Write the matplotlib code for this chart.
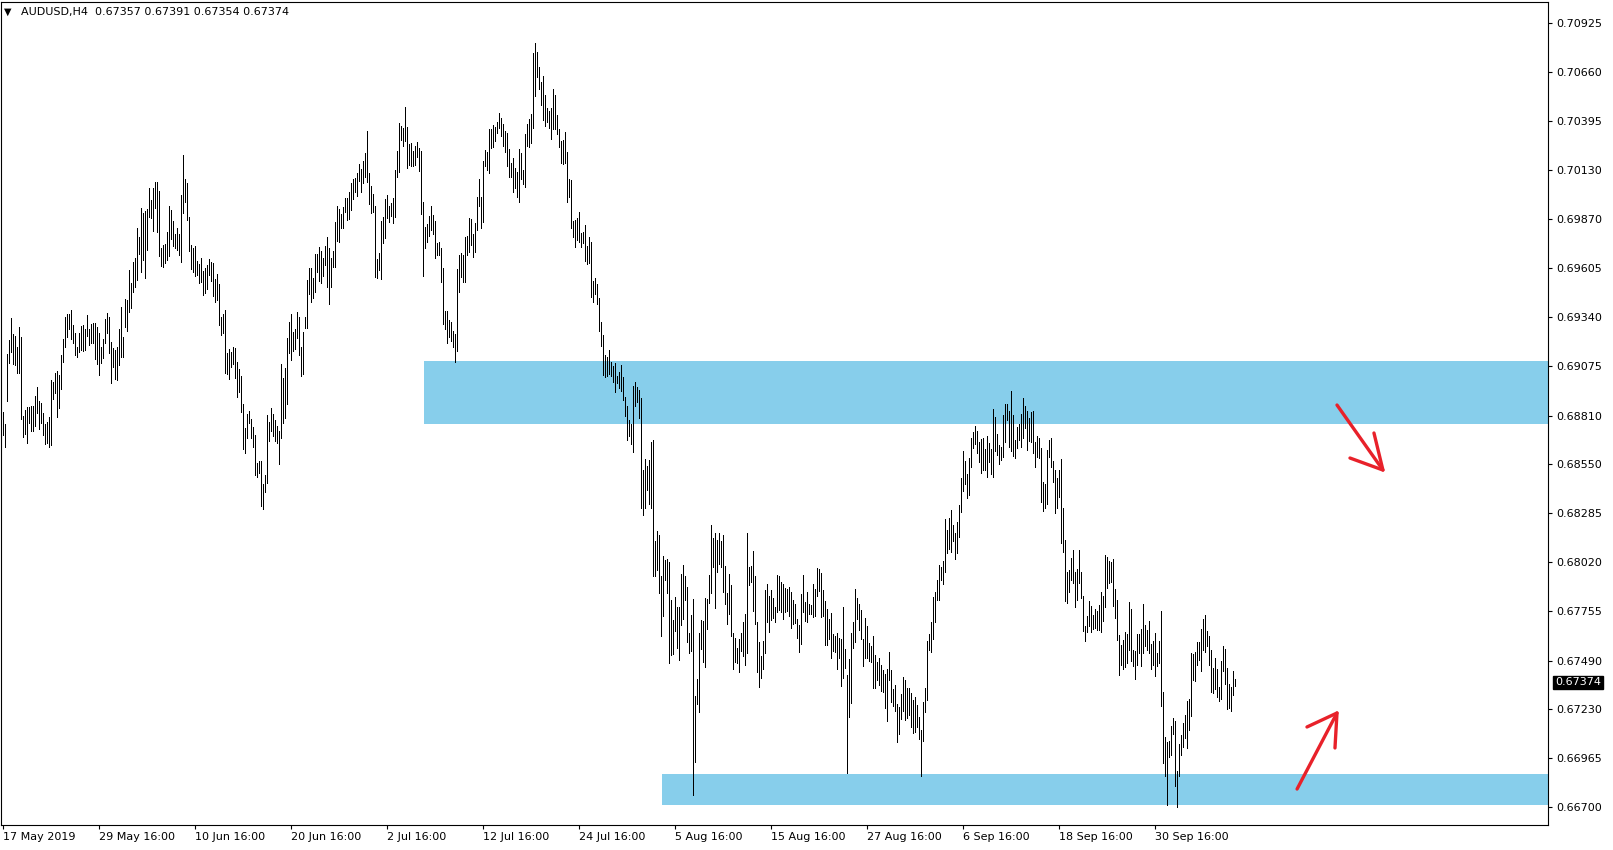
import numpy as np
import matplotlib
matplotlib.use("Agg")
import matplotlib.pyplot as plt
from matplotlib.patches import Rectangle

# AUDUSD H4 bars (high / low of each bar)
symbol = "AUDUSD,H4"
last_ohlc = [0.67357, 0.67391, 0.67354, 0.67374]

highs = [
    0.68831, 0.68765, 0.69141, 0.69217, 0.69333, 0.69249, 0.69238, 0.69181, 0.69288, 0.69235,
    0.68808, 0.68840, 0.68854, 0.68854, 0.68862, 0.68862, 0.68915, 0.68962, 0.68890, 0.68876,
    0.68822, 0.68765, 0.68777, 0.68804, 0.69001, 0.68992, 0.69041, 0.69050, 0.69028, 0.69136,
    0.69220, 0.69342, 0.69357, 0.69357, 0.69378, 0.69297, 0.69253, 0.69181, 0.69253, 0.69292,
    0.69297, 0.69274, 0.69351, 0.69274, 0.69303, 0.69306, 0.69310, 0.69288, 0.69253, 0.69181,
    0.69220, 0.69328, 0.69360, 0.69342, 0.69208, 0.69172, 0.69163, 0.69181, 0.69274, 0.69396,
    0.69235,
    0.69437, 0.69432, 0.69593, 0.69521, 0.69638, 0.69656, 0.69817, 0.69773, 0.69925, 0.69898,
    0.69911, 0.69922, 0.70033, 0.69970, 0.70033, 0.70065, 0.70065, 0.70018, 0.69710, 0.69728,
    0.69731, 0.69796, 0.69938, 0.69916, 0.69857, 0.69785, 0.69817, 0.69785, 0.69997, 0.70212,
    0.70083, 0.70060, 0.69880, 0.69728, 0.69710, 0.69724, 0.69642, 0.69624, 0.69660, 0.69588,
    0.69602, 0.69620, 0.69652, 0.69635, 0.69629, 0.69545, 0.69570, 0.69516, 0.69342, 0.69355,
    0.69378, 0.69145, 0.69168, 0.69150, 0.69181, 0.69172, 0.69096, 0.69060, 0.69025, 0.68870,
    0.68745, 0.68816, 0.68834,
    0.68791, 0.68750, 0.68705, 0.68553, 0.68565, 0.68565, 0.68440, 0.68490, 0.68813, 0.68773,
    0.68852, 0.68816, 0.68786, 0.68755, 0.68727, 0.69085, 0.69010, 0.69064, 0.69225, 0.69311,
    0.69355, 0.69258, 0.69276, 0.69369, 0.69342, 0.69181, 0.69258, 0.69342, 0.69539, 0.69606,
    0.69602, 0.69552, 0.69677, 0.69677, 0.69719, 0.69695, 0.69660, 0.69724, 0.69773, 0.69710,
    0.69656, 0.69695, 0.69850, 0.69939, 0.69921, 0.69893, 0.69934, 0.69982, 0.69979, 0.70011,
    0.70060, 0.70083, 0.70086, 0.70113, 0.70162, 0.70137, 0.70180, 0.70221, 0.70341, 0.70113,
    0.70047, 0.70000,
    0.69939, 0.69652, 0.69683, 0.69857, 0.69880, 0.69975, 0.69997, 0.69939, 0.69952, 0.69983,
    0.70131, 0.70234, 0.70383, 0.70370, 0.70359, 0.70472, 0.70365, 0.70270, 0.70275, 0.70234,
    0.70262, 0.70280, 0.70248, 0.70234, 0.69957, 0.69826, 0.69839, 0.69886, 0.69939, 0.69889,
    0.69857, 0.69737, 0.69746, 0.69713, 0.69606, 0.69373, 0.69373, 0.69324, 0.69312, 0.69265,
    0.69247, 0.69599, 0.69674, 0.69683, 0.69674, 0.69773, 0.69778, 0.69875, 0.69868, 0.69785,
    0.69844, 0.69988, 0.70083, 0.69988, 0.70180, 0.70239, 0.70230, 0.70352, 0.70352, 0.70374,
    0.70365, 0.70388, 0.70436,
    0.70409, 0.70377, 0.70341, 0.70329, 0.70244, 0.70167, 0.70194, 0.70140, 0.70119, 0.70244,
    0.70221, 0.70131, 0.70323, 0.70377, 0.70406, 0.70431, 0.70759, 0.70813, 0.70765, 0.70688,
    0.70603, 0.70639, 0.70535, 0.70467, 0.70449, 0.70463, 0.70567, 0.70535, 0.70427, 0.70352,
    0.70288, 0.70293, 0.70334, 0.70230, 0.70083, 0.70078, 0.69857, 0.69862, 0.69875, 0.69907,
    0.69791, 0.69796, 0.69835, 0.69724, 0.69773, 0.69746, 0.69534, 0.69552, 0.69516, 0.69444,
    0.69315, 0.69243, 0.69136, 0.69127, 0.69163, 0.69100, 0.69078, 0.69091, 0.69025, 0.69046,
    0.69082, 0.69019,
    0.68912, 0.68863, 0.68786, 0.68763, 0.68971, 0.68992, 0.68965, 0.68947, 0.68906, 0.68517,
    0.68576, 0.68540, 0.68571, 0.68669, 0.68678, 0.68135, 0.68189, 0.68167, 0.67948, 0.68056,
    0.68033, 0.68038, 0.68024, 0.67817, 0.67710, 0.67835, 0.67781, 0.67781, 0.67955, 0.68006,
    0.67948, 0.67889, 0.67638, 0.67736, 0.67823, 0.67302, 0.67392, 0.67638, 0.67710, 0.67704,
    0.67830, 0.67823, 0.67952, 0.68221, 0.68149, 0.68176, 0.68140, 0.68176, 0.68135, 0.68167,
    0.68002, 0.67853, 0.67955, 0.67898, 0.67638, 0.67615, 0.67557, 0.67607, 0.67638, 0.67697,
    0.67740, 0.68176, 0.67997,
    0.68002, 0.68081, 0.67948, 0.67697, 0.67593, 0.67517, 0.67596, 0.67871, 0.67901, 0.67840,
    0.67871, 0.67830, 0.67781, 0.67952, 0.67948, 0.67916, 0.67901, 0.67880, 0.67876, 0.67889,
    0.67862, 0.67817, 0.67794, 0.67715, 0.67682, 0.67847, 0.67952, 0.67804, 0.67862, 0.67794,
    0.67790, 0.67901, 0.67876, 0.67991, 0.67984, 0.67961, 0.67871, 0.67812, 0.67769, 0.67715,
    0.67745, 0.67632, 0.67625, 0.67638, 0.67614, 0.67607, 0.67781, 0.67553, 0.67413, 0.67499,
    0.67638, 0.67697, 0.67876, 0.67830, 0.67794, 0.67763, 0.67607, 0.67718, 0.67679, 0.67584,
    0.67571, 0.67625,
    0.67521, 0.67485, 0.67503, 0.67467, 0.67440, 0.67417, 0.67446, 0.67535, 0.67440, 0.67338,
    0.67359, 0.67255, 0.67243, 0.67309, 0.67404, 0.67386, 0.67341, 0.67341, 0.67315, 0.67279,
    0.67297, 0.67252, 0.67189, 0.67117, 0.67270, 0.67345, 0.67596, 0.67632, 0.67697, 0.67835,
    0.67862, 0.67925, 0.68005, 0.67996, 0.68027, 0.68253, 0.68194, 0.68260, 0.68301, 0.68221,
    0.68176, 0.68235, 0.68328, 0.68475, 0.68619, 0.68565, 0.68493, 0.68583, 0.68691, 0.68719,
    0.68755, 0.68726, 0.68669, 0.68683, 0.68691, 0.68630, 0.68701, 0.68660, 0.68630, 0.68845,
    0.68804, 0.68708, 0.68651,
    0.68642, 0.68813, 0.68870, 0.68870, 0.68834, 0.68942, 0.68813, 0.68678, 0.68750, 0.68762,
    0.68816, 0.68902, 0.68863, 0.68834, 0.68798, 0.68827, 0.68834, 0.68665, 0.68701, 0.68691,
    0.68637, 0.68450, 0.68439, 0.68624, 0.68678, 0.68691, 0.68565, 0.68517, 0.68475, 0.68517,
    0.68576, 0.68314, 0.68140, 0.67969, 0.67978, 0.68045, 0.68086, 0.67969, 0.67984, 0.68086,
    0.67969, 0.67840, 0.67679, 0.67733, 0.67811, 0.67786, 0.67736, 0.67768, 0.67758, 0.67790,
    0.67858, 0.67840, 0.68059, 0.68050, 0.68027, 0.68023, 0.68038, 0.67876, 0.67817, 0.67628,
    0.67575, 0.67602,
    0.67647, 0.67634, 0.67808, 0.67767, 0.67548, 0.67544, 0.67634, 0.67634, 0.67659, 0.67796,
    0.67683, 0.67656, 0.67706, 0.67580, 0.67598, 0.67641, 0.67534, 0.67598, 0.67760, 0.67324,
    0.67082, 0.67055, 0.67060, 0.67139, 0.67180, 0.67168, 0.66899, 0.67042, 0.67091, 0.67157,
    0.67198, 0.67275, 0.67283, 0.67534, 0.67527, 0.67539, 0.67593, 0.67593, 0.67659, 0.67713,
    0.67736, 0.67652, 0.67623, 0.67548, 0.67449, 0.67503, 0.67444, 0.67351, 0.67491, 0.67570,
    0.67552, 0.67449, 0.67365, 0.67351, 0.67437, 0.67391,
]

lows = [
    0.68705, 0.68643, 0.68890, 0.69091, 0.69154, 0.69088, 0.69082, 0.69037, 0.69041, 0.68790,
    0.68693, 0.68711, 0.68661, 0.68772, 0.68729, 0.68729, 0.68754, 0.68826, 0.68736, 0.68772,
    0.68705, 0.68657, 0.68664, 0.68643, 0.68652, 0.68897, 0.68933, 0.68804, 0.68849, 0.68951,
    0.69100, 0.69177, 0.69235, 0.69274, 0.69220, 0.69202, 0.69136, 0.69123, 0.69154, 0.69163,
    0.69159, 0.69163, 0.69238, 0.69190, 0.69199, 0.69199, 0.69113, 0.69088, 0.69028, 0.69091,
    0.69118, 0.69199, 0.69253, 0.69145, 0.68983, 0.69073, 0.69005, 0.69001, 0.69082, 0.69127,
    0.69127,
    0.69288, 0.69265, 0.69369, 0.69391, 0.69473, 0.69504, 0.69539, 0.69678, 0.69584, 0.69647,
    0.69548, 0.69701, 0.69880, 0.69875, 0.69803, 0.69929, 0.69800, 0.69670, 0.69617, 0.69611,
    0.69629, 0.69647, 0.69670, 0.69760, 0.69724, 0.69713, 0.69701, 0.69674, 0.69635, 0.69898,
    0.69961, 0.69862, 0.69696, 0.69599, 0.69584, 0.69563, 0.69566, 0.69521, 0.69527, 0.69459,
    0.69468, 0.69491, 0.69566, 0.69534, 0.69455, 0.69423, 0.69432, 0.69297, 0.69243, 0.69252,
    0.69037, 0.69032, 0.69007, 0.69073, 0.69086, 0.69010, 0.68912, 0.68938, 0.68827, 0.68630,
    0.68607, 0.68691, 0.68768,
    0.68691, 0.68642, 0.68490, 0.68481, 0.68499, 0.68325, 0.68307, 0.68397, 0.68445, 0.68673,
    0.68727, 0.68702, 0.68673, 0.68660, 0.68547, 0.68691, 0.68768, 0.68795, 0.68870, 0.69145,
    0.69109, 0.69157, 0.69168, 0.69229, 0.69136, 0.69024, 0.69032, 0.69283, 0.69279, 0.69462,
    0.69423, 0.69444, 0.69473, 0.69584, 0.69534, 0.69521, 0.69563, 0.69620, 0.69503, 0.69408,
    0.69503, 0.69611, 0.69611, 0.69749, 0.69746, 0.69821, 0.69821, 0.69907, 0.69862, 0.69868,
    0.69916, 0.69975, 0.70015, 0.69993, 0.70072, 0.70011, 0.70060, 0.70095, 0.70065, 0.69947,
    0.69898, 0.69904,
    0.69557, 0.69552, 0.69593, 0.69545, 0.69737, 0.69764, 0.69871, 0.69850, 0.69886, 0.69844,
    0.69880, 0.70096, 0.70122, 0.70293, 0.70262, 0.70288, 0.70144, 0.70158, 0.70155, 0.70155,
    0.70158, 0.70203, 0.70126, 0.69893, 0.69563, 0.69713, 0.69742, 0.69778, 0.69809, 0.69785,
    0.69660, 0.69674, 0.69674, 0.69530, 0.69301, 0.69276, 0.69199, 0.69234, 0.69211, 0.69181,
    0.69096, 0.69157, 0.69477, 0.69557, 0.69530, 0.69530, 0.69674, 0.69692, 0.69728, 0.69665,
    0.69692, 0.69809, 0.69939, 0.69821, 0.69853, 0.70155, 0.70131, 0.70113, 0.70248, 0.70257,
    0.70288, 0.70329, 0.70359,
    0.70316, 0.70262, 0.70227, 0.70155, 0.70096, 0.70096, 0.70015, 0.70036, 0.69988, 0.69957,
    0.70083, 0.70054, 0.70042, 0.70262, 0.70257, 0.70275, 0.70359, 0.70531, 0.70634, 0.70567,
    0.70481, 0.70401, 0.70370, 0.70388, 0.70356, 0.70298, 0.70352, 0.70352, 0.70323, 0.70257,
    0.70167, 0.70162, 0.70167, 0.69957, 0.69988, 0.69817, 0.69773, 0.69719, 0.69755, 0.69746,
    0.69719, 0.69737, 0.69642, 0.69624, 0.69629, 0.69450, 0.69419, 0.69462, 0.69408, 0.69265,
    0.69186, 0.69028, 0.69019, 0.69025, 0.69032, 0.69025, 0.68992, 0.68938, 0.68983, 0.68960,
    0.68942, 0.68894,
    0.68809, 0.68678, 0.68702, 0.68655, 0.68612, 0.68863, 0.68881, 0.68799, 0.68314, 0.68275,
    0.68314, 0.68409, 0.68332, 0.68314, 0.67948, 0.67948, 0.67979, 0.67853, 0.67625, 0.67733,
    0.67925, 0.67853, 0.67476, 0.67521, 0.67525, 0.67650, 0.67561, 0.67494, 0.67683, 0.67715,
    0.67817, 0.67589, 0.67530, 0.67543, 0.66768, 0.66947, 0.67256, 0.67213, 0.67554, 0.67485,
    0.67458, 0.67661, 0.67799, 0.67853, 0.67997, 0.67776, 0.67966, 0.68009, 0.67997, 0.67858,
    0.67794, 0.67686, 0.67740, 0.67625, 0.67446, 0.67485, 0.67476, 0.67428, 0.67543, 0.67518,
    0.67467, 0.67530, 0.67898,
    0.67912, 0.67758, 0.67686, 0.67428, 0.67351, 0.67399, 0.67446, 0.67530, 0.67700, 0.67647,
    0.67709, 0.67722, 0.67700, 0.67754, 0.67763, 0.67751, 0.67715, 0.67754, 0.67758, 0.67733,
    0.67668, 0.67686, 0.67691, 0.67614, 0.67539, 0.67578, 0.67754, 0.67704, 0.67697, 0.67740,
    0.67740, 0.67727, 0.67733, 0.67840, 0.67865, 0.67727, 0.67733, 0.67575, 0.67575, 0.67607,
    0.67507, 0.67543, 0.67535, 0.67446, 0.67503, 0.67356, 0.67399, 0.67453, 0.66884, 0.67189,
    0.67261, 0.67560, 0.67593, 0.67715, 0.67656, 0.67607, 0.67464, 0.67507, 0.67507, 0.67489,
    0.67482, 0.67345,
    0.67345, 0.67386, 0.67359, 0.67327, 0.67320, 0.67234, 0.67166, 0.67386, 0.67266, 0.67248,
    0.67219, 0.67054, 0.67094, 0.67176, 0.67219, 0.67171, 0.67180, 0.67198, 0.67135, 0.67099,
    0.67105, 0.67135, 0.67069, 0.66871, 0.67058, 0.67212, 0.67279, 0.67548, 0.67539, 0.67607,
    0.67700, 0.67817, 0.67817, 0.67925, 0.67901, 0.67969, 0.68068, 0.68091, 0.68077, 0.68134,
    0.68038, 0.68068, 0.68158, 0.68292, 0.68404, 0.68439, 0.68368, 0.68382, 0.68534, 0.68637,
    0.68655, 0.68606, 0.68561, 0.68499, 0.68517, 0.68517, 0.68481, 0.68561, 0.68493, 0.68481,
    0.68619, 0.68597, 0.68547,
    0.68570, 0.68588, 0.68669, 0.68786, 0.68642, 0.68619, 0.68594, 0.68583, 0.68633, 0.68678,
    0.68642, 0.68691, 0.68741, 0.68624, 0.68673, 0.68665, 0.68606, 0.68534, 0.68588, 0.68583,
    0.68343, 0.68296, 0.68314, 0.68332, 0.68588, 0.68534, 0.68450, 0.68283, 0.68314, 0.68373,
    0.68122, 0.68077, 0.67811, 0.67799, 0.67862, 0.67925, 0.67907, 0.67781, 0.67817, 0.67907,
    0.67829, 0.67650, 0.67596, 0.67643, 0.67679, 0.67646, 0.67661, 0.67664, 0.67655, 0.67655,
    0.67646, 0.67704, 0.67781, 0.67883, 0.67907, 0.67916, 0.67786, 0.67722, 0.67602, 0.67413,
    0.67467, 0.67446,
    0.67458, 0.67480, 0.67548, 0.67491, 0.67462, 0.67390, 0.67467, 0.67534, 0.67462, 0.67534,
    0.67570, 0.67548, 0.67530, 0.67444, 0.67467, 0.67408, 0.67462, 0.67480, 0.67247, 0.66942,
    0.66870, 0.66714, 0.66974, 0.66983, 0.67096, 0.66816, 0.66705, 0.66870, 0.66983, 0.67028,
    0.67073, 0.67019, 0.67118, 0.67193, 0.67387, 0.67383, 0.67467, 0.67494, 0.67437, 0.67548,
    0.67539, 0.67570, 0.67467, 0.67324, 0.67318, 0.67336, 0.67293, 0.67275, 0.67283, 0.67437,
    0.67365, 0.67229, 0.67234, 0.67222, 0.67306, 0.67354,
]

date_labels = ["17 May 2019", "29 May 16:00", "10 Jun 16:00", "20 Jun 16:00",
               "2 Jul 16:00", "12 Jul 16:00", "24 Jul 16:00", "5 Aug 16:00",
               "15 Aug 16:00", "27 Aug 16:00", "6 Sep 16:00", "18 Sep 16:00",
               "30 Sep 16:00"]
label_step = 48  # bars between date labels

price_ticks = [0.70925, 0.70660, 0.70395, 0.70130, 0.69870, 0.69605, 0.69340,
               0.69075, 0.68810, 0.68550, 0.68285, 0.68020, 0.67755, 0.67490,
               0.67230, 0.66965, 0.66700]

# supply / demand zones: top, bottom, first bar
zone_tops = [0.69103, 0.66880]
zone_bottoms = [0.68766, 0.66713]
zone_starts = [210.5, 329.5]
zone_color = "#87ceeb"

highs = np.array(highs)
lows = np.array(lows)
x = np.arange(len(highs))

W, H = 1613, 850
fig = plt.figure(figsize=(W / 100, H / 100), dpi=100)
ax = fig.add_axes([1 / W, 25 / H, 1547 / W, 823 / H])

ax.set_xlim(-1.15, 772.35)
ax.set_ylim(0.666057, 0.710359)

for top, bot, start in zip(zone_tops, zone_bottoms, zone_starts):
    ax.add_patch(Rectangle((start, bot), 1000, top - bot, color=zone_color,
                           lw=0, zorder=1))

ax.vlines(x, lows, highs, color="black", lw=0.72, antialiased=False, zorder=2)

# hand drawn arrows (axes fraction)
red = "#e8212a"
arrows = [
    [(0.8636, 0.5103), (0.8933, 0.4313)],
    [(0.8378, 0.0437), (0.8636, 0.1361)],
]
heads = [
    [(0.8720, 0.4459), (0.8933, 0.4313), (0.8875, 0.4763)],
    [(0.8442, 0.1191), (0.8636, 0.1361), (0.8623, 0.0936)],
]
for shaft, head in zip(arrows, heads):
    xs, ys = zip(*shaft)
    ax.plot(xs, ys, color=red, lw=2.4, transform=ax.transAxes,
            solid_capstyle="round", clip_on=False, zorder=5)
    xs, ys = zip(*head)
    ax.plot(xs, ys, color=red, lw=2.4, transform=ax.transAxes,
            solid_capstyle="round", solid_joinstyle="round", clip_on=False, zorder=5)

# axes
ax.yaxis.tick_right()
ax.set_yticks(price_ticks)
ax.set_yticklabels(["%.5f" % p for p in price_ticks])
ax.set_xticks(x[::label_step][:len(date_labels)])
ax.set_xticklabels(date_labels, ha="left")
ax.tick_params(axis="both", labelsize=8, length=3, width=0.8, colors="black", pad=2)
ax.tick_params(axis="y", pad=3)
for s in ax.spines.values():
    s.set_linewidth(0.8)

# current price box
ax.text(1.0045, last_ohlc[3], "%.5f" % last_ohlc[3], transform=ax.get_yaxis_transform(),
        ha="left", va="center", fontsize=8, color="white",
        bbox=dict(boxstyle="square,pad=0.15", fc="black", ec="black"))

fig.text(4 / W, 1 - 12 / H, "\u25bc", fontsize=7, va="center", ha="left")
fig.text(21 / W, 1 - 12 / H, "%s  %.5f %.5f %.5f %.5f" % (symbol, *last_ohlc),
         fontsize=8, va="center", ha="left")

fig.savefig("out.png", dpi=100)
